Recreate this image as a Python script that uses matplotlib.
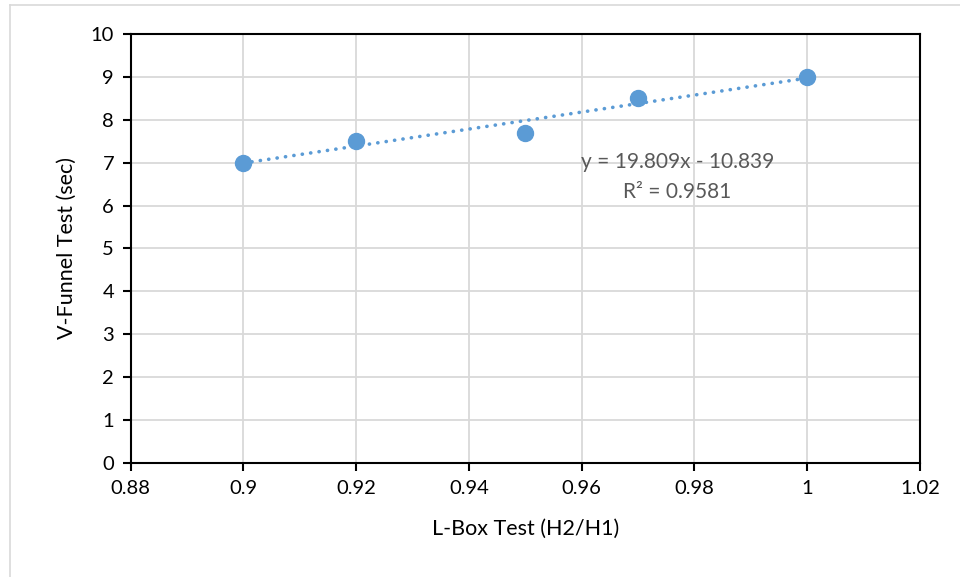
import numpy as np
import matplotlib.pyplot as plt
from matplotlib.lines import Line2D

# data
lbox = [0.90, 0.92, 0.95, 0.97, 1.00]
vfunnel = [7.0, 7.5, 7.7, 8.5, 9.0]
slope, intercept = 19.809, -10.839
r2 = 0.9581
xticks = [0.88, 0.9, 0.92, 0.94, 0.96, 0.98, 1, 1.02]
yticks = list(range(0, 11))

plt.rcParams['font.family'] = ['Lato', 'DejaVu Sans']
blue = '#5B9BD5'

fig = plt.figure(figsize=(9.6, 5.77), dpi=100)
ax = fig.add_axes([0.1362, 0.1976, 0.822, 0.7437])

# trendline
tx = np.array([min(lbox), max(lbox)])
ax.plot(tx, slope * tx + intercept, color=blue, lw=2.6, ls=(0, (0.05, 2.3)),
        dash_capstyle='round', zorder=3)
ax.plot(lbox, vfunnel, 'o', color=blue, ms=11.5, zorder=4)

ax.set_xlim(0.88, 1.02)
ax.set_ylim(0, 10)
ax.set_xticks(xticks)
ax.set_xticklabels(['0.88', '0.9', '0.92', '0.94', '0.96', '0.98', '1', '1.02'])
ax.set_yticks(yticks)
ax.grid(True, color='#D9D9D9', lw=1.3)
ax.set_axisbelow(True)
for s in ax.spines.values():
    s.set_color('black')
    s.set_linewidth(1.5)
ax.tick_params(axis='both', direction='out', length=6, width=1.5,
               labelsize=14.5, colors='black', pad=6)

ax.set_xlabel('L-Box Test (H2/H1)', fontsize=15.5, labelpad=16)
ax.set_ylabel('V-Funnel Test (sec)', fontsize=15.5, labelpad=10)

ax.text(0.9770, 7.02, 'y = 19.809x - 10.839', ha='center', va='center',
        fontsize=15, color='#595959')
ax.text(0.9770, 6.32, 'R² = %.4f' % r2, ha='center', va='center',
        fontsize=15, color='#595959')

# chart area border (only left/top visible in crop)
fig.add_artist(Line2D([10 / 960, 10 / 960], [0, 1 - 5 / 577],
                      transform=fig.transFigure, color='#D9D9D9', lw=1.2))
fig.add_artist(Line2D([10 / 960, 1], [1 - 5 / 577, 1 - 5 / 577],
                      transform=fig.transFigure, color='#D9D9D9', lw=1.2))

fig.savefig('out.png', dpi=100)
